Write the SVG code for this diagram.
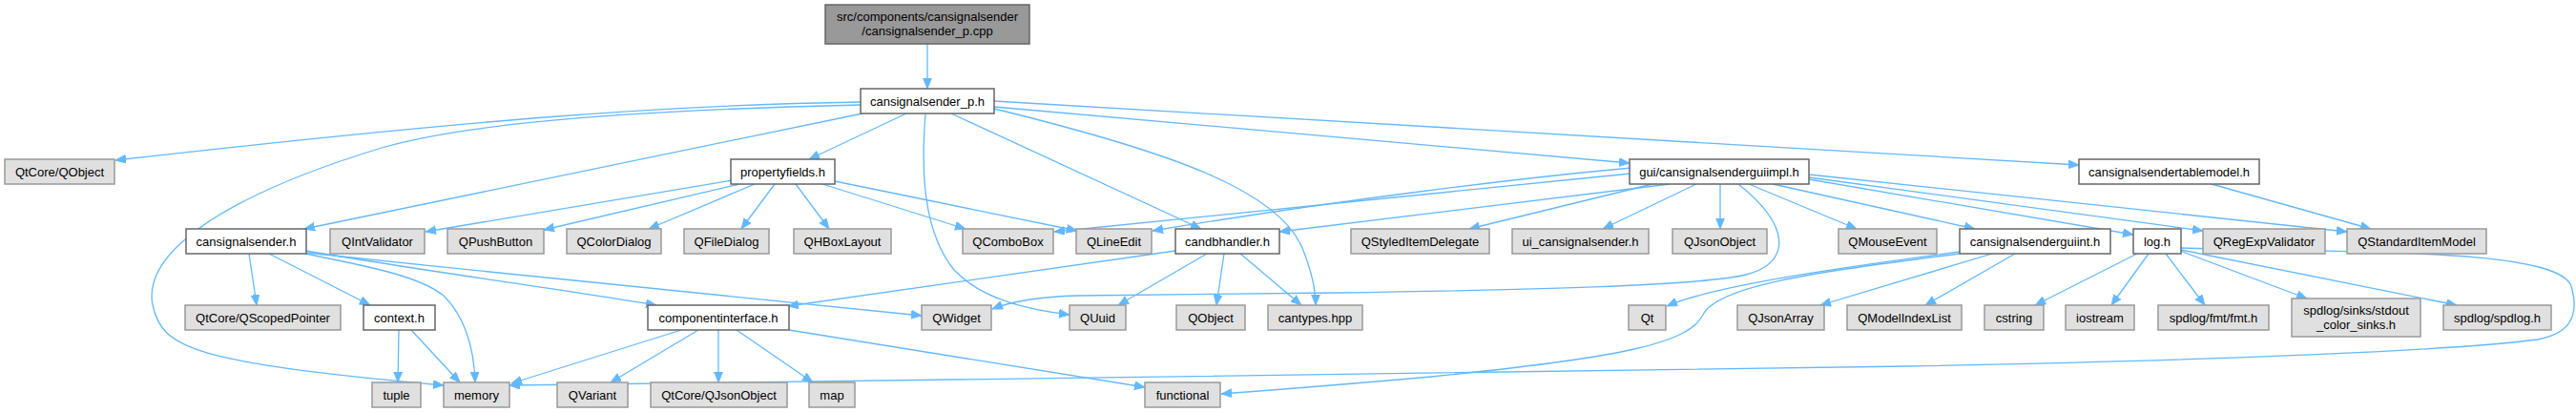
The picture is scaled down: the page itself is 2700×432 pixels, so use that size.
<svg xmlns="http://www.w3.org/2000/svg" width="2700" height="432" viewBox="0 0 2700 432">
<defs>
<marker id="ah" markerUnits="userSpaceOnUse" markerWidth="12" markerHeight="10" refX="11" refY="4.5" orient="auto">
<path d="M0,0 L11,4.5 L0,9 Z" fill="#63b8ff" stroke="#63b8ff" stroke-width="0.8"/>
</marker>
</defs>
<style>
.e{fill:none;stroke:#63b8ff;stroke-width:1.3;marker-end:url(#ah)}
.g{fill:#e0e0e0;stroke:#999999;stroke-width:1.5}
.w{fill:#ffffff;stroke:#666666;stroke-width:1.5}
.r{fill:#999999;stroke:#666666;stroke-width:1.5}
text{font-family:"Liberation Sans",Arial,sans-serif;font-size:13px;fill:#000000;text-anchor:middle}
</style>
<rect width="2700" height="432" fill="#ffffff"/>
<g id="edges">
<path class="e" d="M972,46 L972,93"/>
<path class="e" d="M902,107 C 700,110 500,125 121,168"/>
<path class="e" d="M902,110 C 600,117 470,135 400,155 C 220,210 150,270 160,320 C 170,365 200,380 465,404"/>
<path class="e" d="M904,119 L319,240"/>
<path class="e" d="M950,119 L848,167"/>
<path class="e" d="M970,119 C 966,170 965,240 1000,283 C 1030,315 1080,325 1121,330"/>
<path class="e" d="M997,119 L1259,240"/>
<path class="e" d="M1042,114 C 1230,160 1340,200 1365,260 C 1375,285 1379,305 1379,320"/>
<path class="e" d="M1042,112 L1708,171"/>
<path class="e" d="M1042,106 L2179,173"/>
<path class="e" d="M768,189 L446,243"/>
<path class="e" d="M775,193 L570,241"/>
<path class="e" d="M791,193 L680,240"/>
<path class="e" d="M812,193 L777,240"/>
<path class="e" d="M834,193 L869,240"/>
<path class="e" d="M862,193 L1012,240"/>
<path class="e" d="M875,190 L1129,242"/>
<path class="e" d="M1709,182 L1105,243"/>
<path class="e" d="M1710,176 C 1600,186 1400,210 1208,242"/>
<path class="e" d="M1750,193 L1341,243"/>
<path class="e" d="M1732,193 L1540,240"/>
<path class="e" d="M1778,193 L1680,240"/>
<path class="e" d="M1803,193 L1803,240"/>
<path class="e" d="M1822,193 C 1875,235 1880,275 1830,288 C 1780,300 1600,304 1400,307 L1130,310 C 1090,311 1060,316 1040,324"/>
<path class="e" d="M1833,193 L1946,240"/>
<path class="e" d="M1858,193 L2070,240"/>
<path class="e" d="M1896,188 L2236,246"/>
<path class="e" d="M1896,186 L2309,242"/>
<path class="e" d="M1896,183 L2460,243"/>
<path class="e" d="M2318,193 L2485,240"/>
<path class="e" d="M261,266 L269,320"/>
<path class="e" d="M282,266 L388,320"/>
<path class="e" d="M320,266 C 390,280 440,290 465,310 C 490,335 497,370 498,401"/>
<path class="e" d="M321,263 C 450,285 600,305 688,320"/>
<path class="e" d="M321,265 C 550,290 800,312 966,331"/>
<path class="e" d="M1232,263 L826,321"/>
<path class="e" d="M1265,266 L1172,320"/>
<path class="e" d="M1283,266 L1275,320"/>
<path class="e" d="M1300,266 L1364,320"/>
<path class="e" d="M2054,264 C 1950,278 1800,298 1747,321"/>
<path class="e" d="M2054,266 C 1900,285 1800,300 1785,330 C 1770,360 1700,375 1500,395 C 1400,404 1320,410 1280,413"/>
<path class="e" d="M2088,266 L1908,320"/>
<path class="e" d="M2112,266 L2018,320"/>
<path class="e" d="M2240,266 L2133,320"/>
<path class="e" d="M2252,266 L2213,320"/>
<path class="e" d="M2270,266 L2311,320"/>
<path class="e" d="M2285,263 L2418,313"/>
<path class="e" d="M2286,262 L2575,320"/>
<path class="e" d="M2286,260 C 2500,265 2680,262 2695,300 C 2705,335 2690,350 2660,356 C 2550,370 2300,378 2000,384 C 1600,392 1000,397 534,404"/>
<path class="e" d="M714,346 L536,402"/>
<path class="e" d="M732,346 L640,401"/>
<path class="e" d="M753,346 L753,401"/>
<path class="e" d="M772,346 L852,401"/>
<path class="e" d="M827,346 L1200,406"/>
<path class="e" d="M418,346 L417,401"/>
<path class="e" d="M431,346 L482,401"/>
</g>
<g id="n_root"><rect class="r" x="865" y="5" width="214" height="41"/><text x="972" y="21.5">src/components/cansignalsender</text><text x="972" y="37">/cansignalsender_p.cpp</text></g>
<g id="n_cansignalsender_p_h"><rect class="w" x="902" y="93" width="140" height="26"/><text x="972" y="110.5">cansignalsender_p.h</text></g>
<g id="n_QtCore_QObject"><rect class="g" x="5" y="167" width="115" height="26"/><text x="62.5" y="184.5">QtCore/QObject</text></g>
<g id="n_propertyfields_h"><rect class="w" x="766" y="167" width="109" height="26"/><text x="820.5" y="184.5">propertyfields.h</text></g>
<g id="n_gui_impl"><rect class="w" x="1708" y="167" width="188" height="26"/><text x="1802" y="184.5">gui/cansignalsenderguiimpl.h</text></g>
<g id="n_tablemodel"><rect class="w" x="2179" y="167" width="189" height="26"/><text x="2273.5" y="184.5">cansignalsendertablemodel.h</text></g>
<g id="n_cansignalsender_h"><rect class="w" x="195" y="240" width="126" height="26"/><text x="258" y="257.5">cansignalsender.h</text></g>
<g id="n_QIntValidator"><rect class="g" x="346" y="240" width="99" height="26"/><text x="395.5" y="257.5">QIntValidator</text></g>
<g id="n_QPushButton"><rect class="g" x="469" y="240" width="101" height="26"/><text x="519.5" y="257.5">QPushButton</text></g>
<g id="n_QColorDialog"><rect class="g" x="594" y="240" width="99" height="26"/><text x="643.5" y="257.5">QColorDialog</text></g>
<g id="n_QFileDialog"><rect class="g" x="717" y="240" width="89" height="26"/><text x="761.5" y="257.5">QFileDialog</text></g>
<g id="n_QHBoxLayout"><rect class="g" x="832" y="240" width="102" height="26"/><text x="883" y="257.5">QHBoxLayout</text></g>
<g id="n_QComboBox"><rect class="g" x="1009" y="240" width="95" height="26"/><text x="1056.5" y="257.5">QComboBox</text></g>
<g id="n_QLineEdit"><rect class="g" x="1128" y="240" width="79" height="26"/><text x="1167.5" y="257.5">QLineEdit</text></g>
<g id="n_candbhandler_h"><rect class="w" x="1232" y="240" width="109" height="26"/><text x="1286.5" y="257.5">candbhandler.h</text></g>
<g id="n_QStyledItemDelegate"><rect class="g" x="1416" y="240" width="145" height="26"/><text x="1488.5" y="257.5">QStyledItemDelegate</text></g>
<g id="n_ui_cansignalsender_h"><rect class="g" x="1585" y="240" width="143" height="26"/><text x="1656.5" y="257.5">ui_cansignalsender.h</text></g>
<g id="n_QJsonObject"><rect class="g" x="1753" y="240" width="99" height="26"/><text x="1802.5" y="257.5">QJsonObject</text></g>
<g id="n_QMouseEvent"><rect class="g" x="1927" y="240" width="103" height="26"/><text x="1978.5" y="257.5">QMouseEvent</text></g>
<g id="n_guiint"><rect class="w" x="2054" y="240" width="158" height="26"/><text x="2133" y="257.5">cansignalsenderguiint.h</text></g>
<g id="n_log_h"><rect class="w" x="2236" y="240" width="50" height="26"/><text x="2261" y="257.5">log.h</text></g>
<g id="n_QRegExpValidator"><rect class="g" x="2309" y="240" width="128" height="26"/><text x="2373" y="257.5">QRegExpValidator</text></g>
<g id="n_QStandardItemModel"><rect class="g" x="2460" y="240" width="146" height="26"/><text x="2533" y="257.5">QStandardItemModel</text></g>
<g id="n_QScopedPointer"><rect class="g" x="194" y="320" width="163" height="26"/><text x="275.5" y="337.5">QtCore/QScopedPointer</text></g>
<g id="n_context_h"><rect class="w" x="381" y="320" width="75" height="26"/><text x="418.5" y="337.5">context.h</text></g>
<g id="n_componentinterface_h"><rect class="w" x="679" y="320" width="148" height="26"/><text x="753" y="337.5">componentinterface.h</text></g>
<g id="n_QWidget"><rect class="g" x="966" y="320" width="73" height="26"/><text x="1002.5" y="337.5">QWidget</text></g>
<g id="n_QUuid"><rect class="g" x="1121" y="320" width="59" height="26"/><text x="1150.5" y="337.5">QUuid</text></g>
<g id="n_QObject"><rect class="g" x="1233" y="320" width="72" height="26"/><text x="1269" y="337.5">QObject</text></g>
<g id="n_cantypes_hpp"><rect class="g" x="1329" y="320" width="99" height="26"/><text x="1378.5" y="337.5">cantypes.hpp</text></g>
<g id="n_Qt"><rect class="g" x="1707" y="320" width="39" height="26"/><text x="1726.5" y="337.5">Qt</text></g>
<g id="n_QJsonArray"><rect class="g" x="1821" y="320" width="91" height="26"/><text x="1866.5" y="337.5">QJsonArray</text></g>
<g id="n_QModelIndexList"><rect class="g" x="1936" y="320" width="120" height="26"/><text x="1996" y="337.5">QModelIndexList</text></g>
<g id="n_cstring"><rect class="g" x="2080" y="320" width="62" height="26"/><text x="2111" y="337.5">cstring</text></g>
<g id="n_iostream"><rect class="g" x="2165" y="320" width="72" height="26"/><text x="2201" y="337.5">iostream</text></g>
<g id="n_fmt_h"><rect class="g" x="2262" y="320" width="116" height="26"/><text x="2320" y="337.5">spdlog/fmt/fmt.h</text></g>
<g id="n_sinks"><rect class="g" x="2402" y="313" width="135" height="40"/><text x="2469.5" y="329.5">spdlog/sinks/stdout</text><text x="2469.5" y="344.5">_color_sinks.h</text></g>
<g id="n_spdlog_h"><rect class="g" x="2561" y="320" width="113" height="26"/><text x="2617.5" y="337.5">spdlog/spdlog.h</text></g>
<g id="n_tuple"><rect class="g" x="390" y="401" width="51" height="26"/><text x="415.5" y="418.5">tuple</text></g>
<g id="n_memory"><rect class="g" x="465" y="401" width="69" height="26"/><text x="499.5" y="418.5">memory</text></g>
<g id="n_QVariant"><rect class="g" x="584" y="401" width="74" height="26"/><text x="621" y="418.5">QVariant</text></g>
<g id="n_QJsonObject2"><rect class="g" x="682" y="401" width="143" height="26"/><text x="753.5" y="418.5">QtCore/QJsonObject</text></g>
<g id="n_map"><rect class="g" x="848" y="401" width="48" height="26"/><text x="872" y="418.5">map</text></g>
<g id="n_functional"><rect class="g" x="1200" y="401" width="79" height="26"/><text x="1239.5" y="418.5">functional</text></g>
</svg>
